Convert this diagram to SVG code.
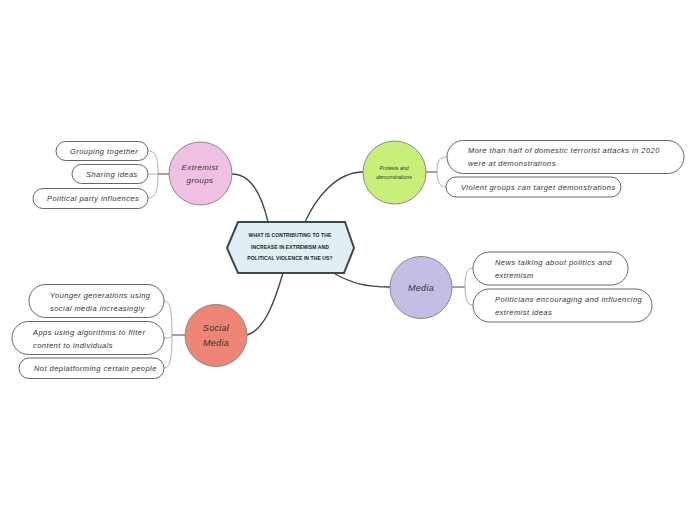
<svg xmlns="http://www.w3.org/2000/svg" width="696" height="520" viewBox="0 0 696 520">
<style>
text{font-family:"Liberation Sans","DejaVu Sans",sans-serif;fill:#333;font-style:italic}
.sub{font-size:7.5px;letter-spacing:0.45px}
.pill{fill:#fff;stroke:#555;stroke-width:0.9}
.main{fill:none;stroke:#444;stroke-width:1.4}
.stem{fill:none;stroke:#666;stroke-width:1.2}
.br{fill:none;stroke:#999;stroke-width:0.8}
.ctr{font-size:5px;font-weight:bold;font-style:normal;letter-spacing:0.1px;fill:#222}
.cir{stroke:#888;stroke-width:1}
</style>
<rect width="696" height="520" fill="#fff"/>
<g id="connectors">
<path class="main" d="M232,174 C252,174 262,196 268,222"/>
<path class="main" d="M363,172 C335,172 315,200 305,222"/>
<path class="main" d="M390,287 C365,287 352,283 335,274"/>
<path class="main" d="M247,335 C265,330 275,300 283,273"/>
<path class="stem" d="M169,174 H158"/>
<path class="br" d="M158,174 C158,158 156,151 148,151 M158,174 H148 M158,174 C158,190 156,198 148,198"/>
<path class="stem" d="M426,172 H437"/>
<path class="br" d="M437,172 C437,160 440,157 447,157 M437,172 C437,182 440,187 446,187"/>
<path class="stem" d="M452,287 H465"/>
<path class="br" d="M465,287 C465,274 467,268 473,268 M465,287 C465,299 467,305 473,305"/>
<path class="stem" d="M185,335 H172"/>
<path class="br" d="M172,335 C172,310 170,301 164,301 M172,335 C172,337 170,338 164,338 M172,335 C172,358 170,368 164,368"/>
</g>
<g id="central">
<polygon points="227,248 238,222 345,222 354,248 344,273 238,273" fill="#e1eef4" stroke="#3c4850" stroke-width="2"/>
<text class="ctr" x="290" y="237" text-anchor="middle">WHAT IS CONTRIBUTING TO THE</text>
<text class="ctr" x="290" y="249" text-anchor="middle">INCREASE IN EXTREMISM AND</text>
<text class="ctr" x="290" y="260" text-anchor="middle">POLITICAL VIOLENCE IN THE US?</text>
</g>
<g id="extremist">
<circle class="cir" cx="200.5" cy="173.5" r="31.5" fill="#f0c0e4"/>
<text x="200" y="170" text-anchor="middle" font-size="8" letter-spacing="0.4">Extremist</text>
<text x="200" y="183" text-anchor="middle" font-size="8" letter-spacing="0.4">groups</text>
</g>
<g id="ext1"><rect class="pill" x="56" y="141.5" width="92" height="19" rx="9.5"/><text class="sub" x="70" y="154">Grouping together</text></g>
<g id="ext2"><rect class="pill" x="72" y="164.5" width="76" height="19" rx="9.5"/><text class="sub" x="86" y="177">Sharing ideas</text></g>
<g id="ext3"><rect class="pill" x="33" y="188.5" width="115" height="20" rx="10"/><text class="sub" x="47" y="201">Political party influences</text></g>
<g id="protests">
<circle class="cir" cx="394.5" cy="172.5" r="31.5" fill="#c9ef7b"/>
<text x="394" y="170" text-anchor="middle" font-size="5.2">Protests and</text>
<text x="394" y="179" text-anchor="middle" font-size="5.2">demonstrations</text>
</g>
<g id="pro1"><rect class="pill" x="447" y="140.5" width="237" height="33" rx="16.5"/><text class="sub" x="468" y="152.5">More than half of domestic terrorist attacks in 2020</text><text class="sub" x="468" y="165.5">were at demonstrations</text></g>
<g id="pro2"><rect class="pill" x="446" y="177" width="175" height="20" rx="10"/><text class="sub" x="461" y="190">Violent groups can target demonstrations</text></g>
<g id="media">
<circle class="cir" cx="421" cy="287.5" r="31" fill="#c5bde3"/>
<text x="421" y="291" text-anchor="middle" font-size="9" letter-spacing="0.3">Media</text>
</g>
<g id="med1"><rect class="pill" x="473" y="252" width="155" height="33" rx="16.5"/><text class="sub" x="495" y="265">News talking about politics and</text><text class="sub" x="495" y="278">extremism</text></g>
<g id="med2"><rect class="pill" x="473" y="289" width="179" height="33" rx="16.5"/><text class="sub" x="495" y="302">Politicians encouraging and influencing</text><text class="sub" x="495" y="315">extremist ideas</text></g>
<g id="social">
<circle class="cir" cx="216" cy="335.5" r="31" fill="#ee8577"/>
<text x="216" y="331" text-anchor="middle" font-size="9" letter-spacing="0.3">Social</text>
<text x="216" y="346" text-anchor="middle" font-size="9" letter-spacing="0.3">Media</text>
</g>
<g id="soc1"><rect class="pill" x="29" y="284.5" width="135" height="33" rx="16.5"/><text class="sub" x="50" y="298">Younger generations using</text><text class="sub" x="50" y="311">social media increasingly</text></g>
<g id="soc2"><rect class="pill" x="12" y="321.5" width="152" height="33" rx="16.5"/><text class="sub" x="33" y="335">Apps using algorithms to filter</text><text class="sub" x="33" y="348">content to individuals</text></g>
<g id="soc3"><rect class="pill" x="19" y="358" width="145" height="20.5" rx="10"/><text class="sub" x="34" y="371">Not deplatforming certain people</text></g>
</svg>
